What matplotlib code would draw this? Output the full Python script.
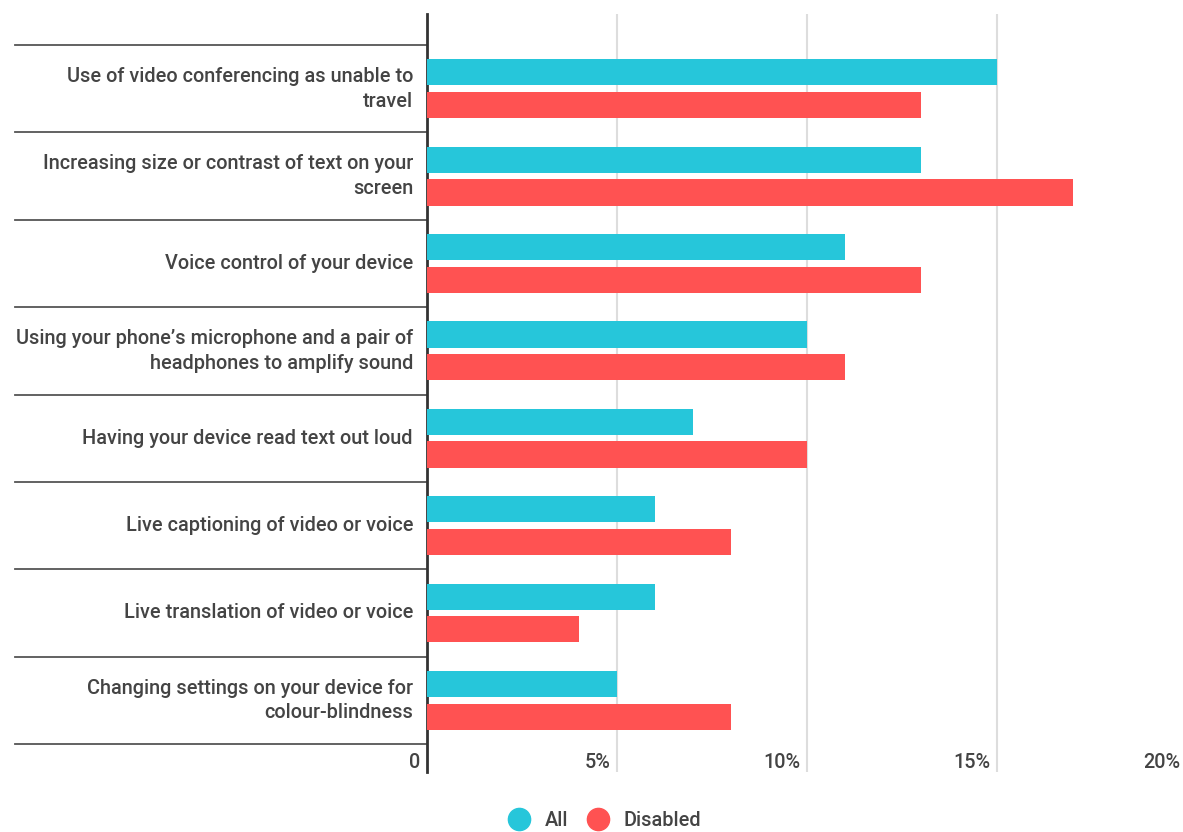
import matplotlib
matplotlib.use("Agg")
import matplotlib.pyplot as plt
import numpy as np
from matplotlib.lines import Line2D

plt.rcParams["font.family"] = ["Roboto", "DejaVu Sans"]

categories = [
    "Use of video conferencing as unable to\ntravel",
    "Increasing size or contrast of text on your\nscreen",
    "Voice control of your device",
    "Using your phone\u2019s microphone and a pair of\nheadphones to amplify sound",
    "Having your device read text out loud",
    "Live captioning of video or voice",
    "Live translation of video or voice",
    "Changing settings on your device for\ncolour-blindness",
]
all_values = [15, 13, 11, 10, 7, 6, 6, 5]
disabled_values = [13, 17, 13, 11, 10, 8, 4, 8]
tick_values = [0, 5, 10, 15, 20]
tick_labels = ["0", "5%", "10%", "15%", "20%"]

teal = "#26C6DA"
red = "#FF5252"
text_color = "#444444"
fs = 14.3

W, H = 1183, 832
fig = plt.figure(figsize=(W / 100, H / 100), dpi=100)
# axes: x=0 at px 427, 5% per 190 px; y from px 14 to 772
left_px, top_px, bottom_px = 427, 14, 772
ax = fig.add_axes([left_px / W, 1 - bottom_px / H, (W - left_px) / W, (bottom_px - top_px) / H])

y = np.arange(len(categories))
bar_h = 0.30
off = 0.187
ax.barh(y - off, all_values, height=bar_h, color=teal, zorder=3)
ax.barh(y + off, disabled_values, height=bar_h, color=red, zorder=3)

ax.set_xlim(0, (W - left_px) / 38)
ax.set_ylim(len(categories) - 0.5 + 0.32, -0.5 - 0.355)

for s in ["top", "right", "bottom"]:
    ax.spines[s].set_visible(False)
ax.spines["left"].set_color("#333333")
ax.spines["left"].set_linewidth(2)
ax.set_xticks([])
ax.set_yticks([])

# gridlines
for v in tick_values[1:]:
    ax.axvline(v, color="#dddddd", lw=1.5, zorder=1)

# tick labels, right aligned just left of each gridline
xt = ax.get_xaxis_transform()
for v, lab in zip(tick_values, tick_labels):
    ax.text(v - 0.18, 0.013, lab, transform=xt, ha="right", va="center",
            fontsize=fs, fontweight="medium", color=text_color, clip_on=False)

# category separators to the left of the axis
yt = ax.get_yaxis_transform()
sep_left = (15 - left_px) / (W - left_px)
for b in np.arange(len(categories) + 1) - 0.5:
    ax.plot([sep_left, 0], [b, b], transform=yt, color="#555555", lw=1.3,
            clip_on=False, zorder=2)

# category labels
lab_x = (413 - left_px) / (W - left_px)
for i, c in enumerate(categories):
    ax.text(lab_x, i, c, transform=yt, ha="right", va="center",
            fontsize=fs, fontweight="medium", color=text_color, linespacing=1.38)

handles = [
    Line2D([], [], marker="o", ls="", markersize=16, color=teal),
    Line2D([], [], marker="o", ls="", markersize=16, color=red),
]
fig.legend(handles, ["All", "Disabled"], loc="center", bbox_to_anchor=(600 / W, 1 - 820 / H),
           ncol=2, frameon=False, prop={"size": fs, "weight": "medium"},
           handletextpad=0.3, columnspacing=0.5, labelcolor=text_color)

fig.savefig("out.png", dpi=100)
